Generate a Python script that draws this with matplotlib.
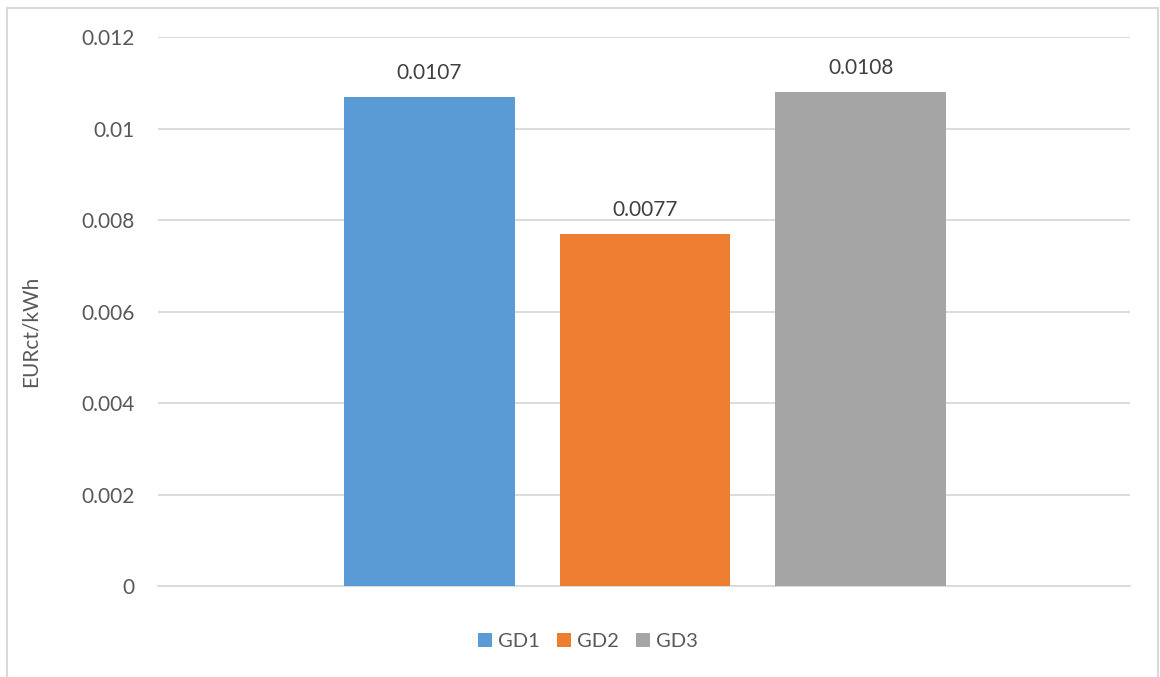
import matplotlib.pyplot as plt
from matplotlib.patches import Rectangle

series = ["GD1", "GD2", "GD3"]
values = [0.0107, 0.0077, 0.0108]
colors = ["#5B9BD5", "#ED7D31", "#A5A5A5"]
yticks = [0, 0.002, 0.004, 0.006, 0.008, 0.01, 0.012]
ytick_labels = ["0", "0.002", "0.004", "0.006", "0.008", "0.01", "0.012"]

plt.rcParams["font.family"] = ["Lato", "DejaVu Sans"]
txt = "#595959"
grid = "#D9D9D9"

fig = plt.figure(figsize=(11.6, 6.77), dpi=100)
ax = fig.add_axes([0.1362, 0.1344, 0.8379, 0.8109])

xs = [-1, 0, 1]
for x, v, c, name in zip(xs, values, colors, series):
    ax.bar(x, v, width=0.79, color=c, label=name, zorder=3)
    ax.annotate(str(v), (x, v), xytext=(0, 10), textcoords="offset points",
                ha="center", va="bottom", fontsize=15, color="#404040")

ax.set_xlim(-2.26, 2.25)
ax.set_ylim(0, 0.012)
ax.set_yticks(yticks)
ax.set_yticklabels(ytick_labels)
ax.set_xticks([])
ax.tick_params(axis="y", length=0, pad=17, labelsize=15, labelcolor=txt)
ax.grid(axis="y", color=grid, linewidth=1.3, zorder=0)
for side in ["top", "right", "left"]:
    ax.spines[side].set_visible(False)
ax.spines["bottom"].set_color(grid)
ax.spines["bottom"].set_linewidth(1.3)
ax.set_ylabel("EURct/kWh", fontsize=15, color=txt)
ax.yaxis.set_label_coords(-0.121, 0.464)

leg = fig.legend(loc="center", bbox_to_anchor=(0.507, 0.053), ncol=3, frameon=False,
                 fontsize=14.5, handlelength=0.7, handleheight=0.7,
                 handletextpad=0.3, columnspacing=0.85)
for t in leg.get_texts():
    t.set_color(txt)

# light frame around the chart area
fig.patches.append(Rectangle((7 / 1160, -0.05), 1151 / 1160, 1.05 - 8 / 677,
                             transform=fig.transFigure, fill=False,
                             edgecolor="#D9D9D9", linewidth=1.5))

fig.savefig("out.png", dpi=100)
